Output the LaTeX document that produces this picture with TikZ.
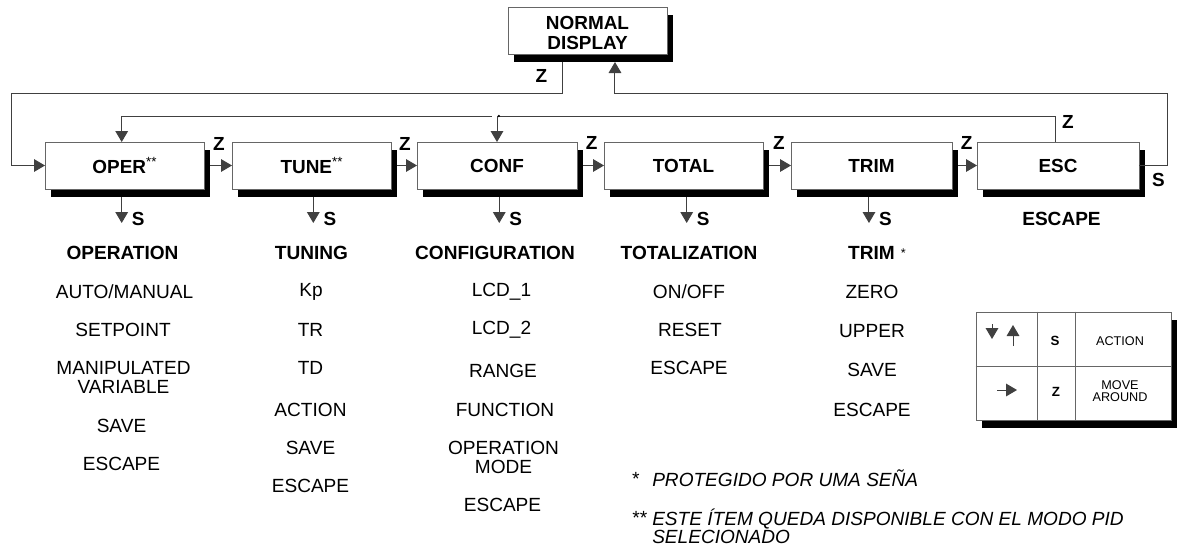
\documentclass[tikz,border=0pt]{standalone}
\usepackage{fontspec}
\setmainfont{Liberation Sans}
\usetikzlibrary{arrows.meta,shadows,calc}
\begin{document}
\begin{tikzpicture}[x=0.75pt,y=-0.75pt,
  conn/.style={draw=black!75, line width=0.75pt},
  tri/.style={-{Triangle[length=8.25pt,width=9.5pt]}},
  shad/.style={drop shadow={shadow xshift=4.6pt, shadow yshift=-6pt, opacity=1, fill=black}},
  menubox/.style={draw=black!60, line width=0.7pt, fill=white, minimum width=120pt,
    minimum height=35.25pt, inner sep=0pt, outer sep=0pt, shad,
    font=\bfseries\fontsize{14.2}{15}\selectfont, align=center},
  hdr/.style={font=\bfseries\fontsize{14.3}{15}\selectfont, inner sep=0pt},
  item/.style={font=\fontsize{14.3}{14.25}\selectfont, inner sep=0pt, align=center},
  zlbl/.style={font=\bfseries\fontsize{14.2}{15}\selectfont, inner sep=0pt},
  note/.style={font=\itshape\fontsize{14.3}{13.5}\selectfont, inner sep=0pt, anchor=west, align=left},
  legtxt/.style={font=\fontsize{9.5}{9}\selectfont, inner sep=0pt, align=center},
  legkey/.style={font=\bfseries\fontsize{10}{11}\selectfont, inner sep=0pt},
  legline/.style={draw=black!60, line width=0.7pt}
]
\useasboundingbox (0,0) rectangle (1181,547);
\newcommand{\dstar}{\raisebox{0.6ex}{\mdseries\fontsize{10}{10}\selectfont **}}

% boxes
\node[menubox, minimum width=119.25pt] (nd) at (587.5,30.5) {};
\node[hdr, align=center, font=\bfseries\fontsize{14.2}{15}\selectfont] (ndtext) at ([yshift=-1.6pt]nd.center) {NORMAL\\DISPLAY};
\node[menubox, minimum width=119.25pt] (oper)  at (124.5,165.5) {OPER\dstar};
\node[menubox, minimum width=119.25pt] (tune)  at (311.5,165.5) {TUNE\dstar};
\node[menubox] (conf)  at (497,165.5)   {CONF};
\node[menubox, minimum width=119.25pt] (total) at (683.5,165.5) {TOTAL};
\node[menubox, minimum width=120.75pt] (trim)  at (871.5,165.5) {TRIM};
\node[menubox, minimum width=121.5pt] (esc) at (1058,165.5) {ESC};

% helper levels
\coordinate (ytopA) at (0,93);
\coordinate (ytopB) at (0,116);
\coordinate (xleft) at (11.5,0);
\coordinate (xright) at (1167.5,0);

% Z from normal display to OPER
\draw[conn,tri] ([xshift=-18.4pt,yshift=-6pt]nd.south) -- ([xshift=-18.4pt]nd.south |- ytopA)
   -- (xleft |- ytopA) |- (oper.west);
% S from ESC back to normal display
\draw[conn,tri] (esc.east) -- (xright |- esc.east) -- (xright |- ytopA)
   -- ([xshift=20.6pt]nd.south |- ytopA) -- ([xshift=20.6pt,yshift=-6pt]nd.south);
% Z from ESC back to CONF and OPER
\draw[conn,tri] ([xshift=-2.25pt]esc.north) -- ([xshift=-2.25pt]esc.north |- ytopB)
   -- (conf.north |- ytopB) -- (conf.north);
\draw[conn,tri] ([xshift=-4pt]conf.north |- ytopB) -- ([xshift=-2.1pt]oper.north |- ytopB)
   -- ([xshift=-2.1pt]oper.north);
\fill[black] ([xshift=1.4pt]conf.north |- ytopB) circle (1pt);

% horizontal Z arrows
\draw[conn,tri] ([xshift=4.6pt]oper.east) -- (tune.west);
\draw[conn,tri] ([xshift=4.6pt]tune.east) -- (conf.west);
\draw[conn,tri] ([xshift=4.6pt]conf.east) -- (total.west);
\draw[conn,tri] ([xshift=4.6pt]total.east) -- (trim.west);
\draw[conn,tri] ([xshift=4.6pt]trim.east) -- (esc.west);

% Z labels
\node[zlbl] (zn) at (541.5,76) {Z};
\node[zlbl] (z1) at ([xshift=11.25pt,yshift=-1.2pt]oper.north east) {Z};
\node[zlbl] (z2) at ([xshift=10.5pt,yshift=-1.2pt]tune.north east) {Z};
\node[zlbl] (z3) at ([xshift=11pt,yshift=-0.6pt]conf.north east) {Z};
\node[zlbl] (z4) at ([xshift=12pt,yshift=-0.6pt]total.north east) {Z};
\node[zlbl] (z5) at ([xshift=11pt,yshift=-0.6pt]trim.north east) {Z};
\node[zlbl] (z6) at (1068,122) {Z};
\node[zlbl] (se) at (1158.5,179.5) {S};

% S arrows
\foreach \b/\dx in {oper/-2.1pt,tune/1.35pt,conf/1.7pt,total/2.4pt,trim/-1.9pt}{
  \draw[conn,tri] ([xshift=\dx,yshift=-6pt]\b.south) -- ++(0,26) coordinate (\b-s);
  \node[zlbl] (\b-slbl) at ([xshift=12.4pt,yshift=3pt]\b-s) {S};
}

% headers
\node[hdr] (hoper)  at (122.5,253) {OPERATION};
\node[hdr] (htune)  at (311.5,253) {TUNING};
\node[hdr] (hconf)  at (495,253) {CONFIGURATION};
\node[hdr] (htotal) at (689,253) {TOTALIZATION};
\node[hdr, anchor=center] (htrim)  at (877,253) {TRIM\hspace{4.5pt}\raisebox{0.25ex}{\mdseries\fontsize{9.5}{10}\selectfont *}};
\node[hdr] (hesc)   at (1061.5,219) {ESCAPE};

% OPER list
\node[item] (o1) at (124.5,292) {AUTO/MANUAL};
\node[item] (o2) at (123,330) {SETPOINT};
\node[item] (o3) at (123.5,377.5) {MANIPULATED\\VARIABLE};
\node[item] (o4) at (121.5,426) {SAVE};
\node[item] (o5) at (121.5,464) {ESCAPE};
% TUNE list
\node[item] (t1) at (311,292) {Kp};
\node[item] (t2) at (310.5,330) {TR};
\node[item] (t3) at (310.5,368) {TD};
\node[item] (t4) at (310.5,410) {ACTION};
\node[item] (t5) at (310.5,448) {SAVE};
\node[item] (t6) at (310.5,486) {ESCAPE};
% CONF list
\node[item] (c1) at (501.5,292) {LCD\_1};
\node[item] (c2) at (501.5,330) {LCD\_2};
\node[item] (c3) at (503,371) {RANGE};
\node[item] (c4) at (505,410) {FUNCTION};
\node[item] (c5) at (503.5,457.5) {OPERATION\\MODE};
\node[item] (c6) at (502.5,505) {ESCAPE};
% TOTAL list
\node[item] (a1) at (689,292) {ON/OFF};
\node[item] (a2) at (690,330) {RESET};
\node[item] (a3) at (689,368) {ESCAPE};
% TRIM list
\node[item] (r1) at (872,292) {ZERO};
\node[item] (r2) at (872,331) {UPPER};
\node[item] (r3) at (872,370) {SAVE};
\node[item] (r4) at (872,410) {ESCAPE};

% legend
\node[legline, fill=white, shad, minimum width=146.25pt,
      minimum height=81pt, inner sep=0pt] (leg) at (1073.5,366) {};
\draw[legline] (leg.north -| 1037,0) -- (leg.south -| 1037,0);
\draw[legline] (leg.north -| 1075,0) -- (leg.south -| 1075,0);
\draw[legline] (leg.west) -- (leg.east);
\coordinate (ld1) at (992,324);
\coordinate (ld2) at (992,339);
\coordinate (lu1) at (1013,346);
\coordinate (lu2) at (1013,325);
\coordinate (lr1) at (997,390);
\coordinate (lr2) at (1017,390);
\draw[conn,tri] (ld1) -- (ld2);
\draw[conn,tri] (lu1) -- (lu2);
\draw[conn,tri] (lr1) -- (lr2);
\node[legkey] (ls) at (1055,341) {S};
\node[legkey] (lz) at (1056,392) {Z};
\node[legtxt] (la) at (1120,341) {ACTION};
\node[legtxt] (lm) at (1120,391) {MOVE\\AROUND};

% footnotes
\node[note, anchor=center] (n1s) at (635,479) {*};
\node[note] (n1) at (652,478) {PROTEGIDO POR UMA SEÑA};
\node[note, anchor=center] (n2s) at (639,518) {**};
\node[note, anchor=north west] (n2) at (652,509) {ESTE ÍTEM QUEDA DISPONIBLE CON EL MODO PID\\SELECIONADO};
\end{tikzpicture}
\end{document}
